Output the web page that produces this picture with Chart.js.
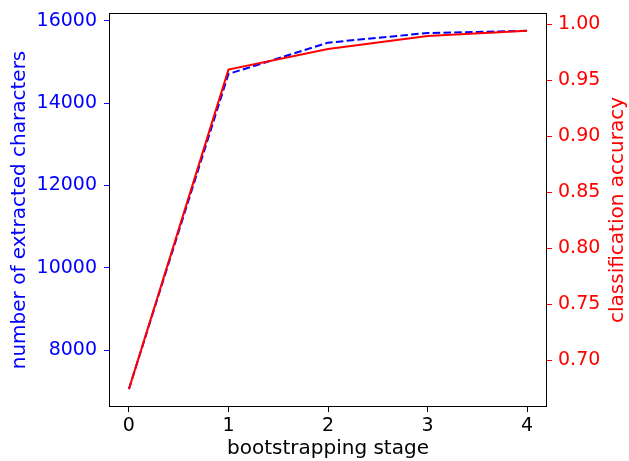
<!DOCTYPE html>
<html>
<head>
<meta charset="utf-8">
<script src="https://cdn.jsdelivr.net/npm/chart.js@4"></script>
<style>
  html, body { margin: 0; padding: 0; background: #fff; }
  #wrap { width: 629px; height: 461px; }
</style>
</head>
<body>
<div id="wrap"><canvas id="chart" width="629" height="461"></canvas></div>
<script>
// data
const stages = [0, 1, 2, 3, 4];
const extractedChars = [7050, 14712, 15473, 15708, 15760];
const accuracy = [0.674, 0.9595, 0.978, 0.9895, 0.9943];

const xTicks = [0, 1, 2, 3, 4];
const leftTicks = [8000, 10000, 12000, 14000, 16000];
const rightTicks = [0.70, 0.75, 0.80, 0.85, 0.90, 0.95, 1.00];

const FONT = { family: "DejaVu Sans", size: 19 };
const TITLE_FONT = { family: "DejaVu Sans", size: 20 };

// frame around the plot area + right axis label (matplotlib reads it bottom-to-top)
const framePlugin = {
    id: "frame",
    afterDraw(chart) {
        const { ctx, chartArea: a } = chart;
        ctx.save();
        ctx.strokeStyle = "#000";
        ctx.lineWidth = 1;
        ctx.strokeRect(a.left + 0.5, a.top + 0.5, a.right - a.left - 1, a.bottom - a.top - 1);

        ctx.translate(618, (a.top + a.bottom) / 2);
        ctx.rotate(-Math.PI / 2);
        ctx.fillStyle = "#ff0000";
        ctx.font = "20px 'DejaVu Sans'";
        ctx.textAlign = "center";
        ctx.textBaseline = "middle";
        ctx.fillText("classification accuracy", 0, 0);
        ctx.restore();
    }
};

const fixTicks = arr => scale => { scale.ticks = arr.map(v => ({ value: v })); };
const noPad = s => { s.paddingTop = 0; s.paddingBottom = 0; s.paddingLeft = 0; s.paddingRight = 0; };

new Chart(document.getElementById("chart").getContext("2d"), {
    type: "line",
    data: {
        datasets: [
            {
                label: "classification accuracy",
                data: stages.map((s, i) => ({ x: s, y: accuracy[i] })),
                borderColor: "#ff0000",
                borderWidth: 2,
                pointRadius: 0,
                tension: 0,
                yAxisID: "yR"
            },
            {
                label: "number of extracted characters",
                data: stages.map((s, i) => ({ x: s, y: extractedChars[i] })),
                borderColor: "#0000ff",
                borderWidth: 2,
                borderDash: [7.5, 3.3],
                pointRadius: 0,
                tension: 0,
                yAxisID: "yL"
            }
        ]
    },
    options: {
        responsive: false,
        animation: false,
        layout: { padding: { top: 13, left: 0, right: 0, bottom: 0 } },
        plugins: { legend: { display: false }, tooltip: { enabled: false } },
        scales: {
            x: {
                type: "linear",
                min: -0.2,
                max: 4.2,
                afterBuildTicks: fixTicks(xTicks),
                afterFit: s => { s.height = 54; noPad(s); },
                grid: { drawOnChartArea: false, tickLength: 5, color: "#000" },
                border: { display: false },
                ticks: { color: "#000", font: FONT, padding: 3, callback: v => String(v) },
                title: { display: true, text: "bootstrapping stage", color: "#000", font: TITLE_FONT, padding: 0 }
            },
            yL: {
                type: "linear",
                position: "left",
                min: 6615,
                max: 16194,
                afterBuildTicks: fixTicks(leftTicks),
                afterFit: s => { s.width = 109; noPad(s); },
                grid: { drawOnChartArea: false, tickLength: 5, color: "#0000ff" },
                border: { display: false },
                ticks: { color: "#0000ff", font: FONT, padding: 7, callback: v => String(v) },
                title: { display: true, text: "number of extracted characters", color: "#0000ff", font: TITLE_FONT, padding: { top: 7.5, bottom: 0 } }
            },
            yR: {
                type: "linear",
                position: "right",
                min: 0.658,
                max: 1.0101,
                afterBuildTicks: fixTicks(rightTicks),
                afterFit: s => { s.width = 82; noPad(s); },
                grid: { drawOnChartArea: false, tickLength: 5, color: "#ff0000" },
                border: { display: false },
                ticks: { color: "#ff0000", font: FONT, padding: 6, callback: v => v.toFixed(2) }
            }
        }
    },
    plugins: [framePlugin]
});
</script>
</body>
</html>
